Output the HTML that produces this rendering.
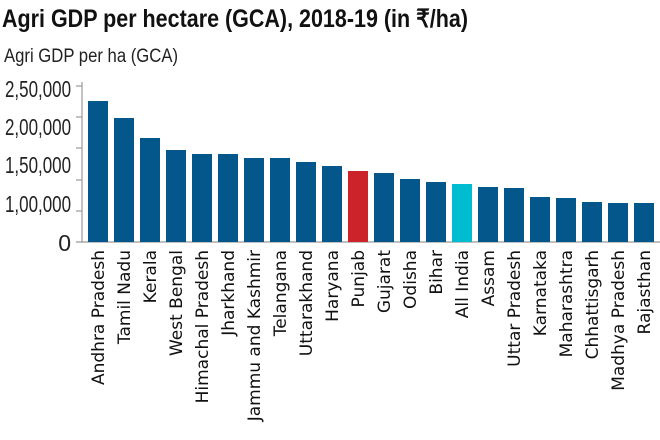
<!DOCTYPE html>
<html><head><meta charset="utf-8"><style>
html,body{margin:0;padding:0;background:#fff;}
svg{display:block;}
</style></head><body>
<svg width="660" height="440" viewBox="0 0 660 440" xmlns="http://www.w3.org/2000/svg">
<text x="2" y="27" font-family="Liberation Sans, sans-serif" font-weight="bold" font-size="25" fill="#111" textLength="466" lengthAdjust="spacingAndGlyphs">Agri GDP per hectare (GCA), 2018-19 (in ₹/ha)</text>
<text x="4" y="62" font-family="Liberation Sans, sans-serif" font-size="19" fill="#222" textLength="174" lengthAdjust="spacingAndGlyphs">Agri GDP per ha (GCA)</text>
<g font-family="Liberation Sans, sans-serif" font-size="23" fill="#222" text-anchor="end">
<text x="71" y="97" textLength="66" lengthAdjust="spacingAndGlyphs">2,50,000</text>
<text x="71" y="135" textLength="66" lengthAdjust="spacingAndGlyphs">2,00,000</text>
<text x="71" y="173" textLength="66" lengthAdjust="spacingAndGlyphs">1,50,000</text>
<text x="71" y="212" textLength="66" lengthAdjust="spacingAndGlyphs">1,00,000</text>
<text x="71" y="251">0</text>
</g>
<g stroke="#999" stroke-width="1.2">
<line x1="82" y1="82" x2="82" y2="242"/>
<line x1="76" y1="86" x2="82" y2="86"/>
<line x1="76" y1="117" x2="82" y2="117"/>
<line x1="76" y1="148" x2="82" y2="148"/>
<line x1="76" y1="180" x2="82" y2="180"/>
<line x1="76" y1="211" x2="82" y2="211"/>
<line x1="76" y1="242" x2="660" y2="242"/>
</g>
<g fill="#04578a">
<rect x="88" y="101" width="20" height="141"/>
<rect x="114" y="118" width="20" height="124"/>
<rect x="140" y="138" width="20" height="104"/>
<rect x="166" y="150" width="20" height="92"/>
<rect x="192" y="154" width="20" height="88"/>
<rect x="218" y="154" width="20" height="88"/>
<rect x="244" y="158" width="20" height="84"/>
<rect x="270" y="158" width="20" height="84"/>
<rect x="296" y="162" width="20" height="80"/>
<rect x="322" y="166" width="20" height="76"/>
<rect x="348" y="171" width="20" height="71" fill="#cc2229"/>
<rect x="374" y="173" width="20" height="69"/>
<rect x="400" y="179" width="20" height="63"/>
<rect x="426" y="182" width="20" height="60"/>
<rect x="452" y="184" width="20" height="58" fill="#00bcd0"/>
<rect x="478" y="187" width="20" height="55"/>
<rect x="504" y="188" width="20" height="54"/>
<rect x="530" y="197" width="20" height="45"/>
<rect x="556" y="198" width="20" height="44"/>
<rect x="582" y="202" width="20" height="40"/>
<rect x="608" y="203" width="20" height="39"/>
<rect x="634" y="203" width="20" height="39"/>
</g>
<g font-family="DejaVu Sans, sans-serif" font-size="17" fill="#111" text-anchor="end">
<text transform="translate(104,250) rotate(-90)">Andhra Pradesh</text>
<text transform="translate(130,250) rotate(-90)">Tamil Nadu</text>
<text transform="translate(156,250) rotate(-90)">Kerala</text>
<text transform="translate(182,250) rotate(-90)">West Bengal</text>
<text transform="translate(208,250) rotate(-90)">Himachal Pradesh</text>
<text transform="translate(234,250) rotate(-90)">Jharkhand</text>
<text transform="translate(260,250) rotate(-90)">Jammu and Kashmir</text>
<text transform="translate(286,250) rotate(-90)">Telangana</text>
<text transform="translate(312,250) rotate(-90)">Uttarakhand</text>
<text transform="translate(338,250) rotate(-90)">Haryana</text>
<text transform="translate(364,250) rotate(-90)">Punjab</text>
<text transform="translate(390,250) rotate(-90)">Gujarat</text>
<text transform="translate(416,250) rotate(-90)">Odisha</text>
<text transform="translate(442,250) rotate(-90)">Bihar</text>
<text transform="translate(468,250) rotate(-90)">All India</text>
<text transform="translate(494,250) rotate(-90)">Assam</text>
<text transform="translate(520,250) rotate(-90)">Uttar Pradesh</text>
<text transform="translate(546,250) rotate(-90)">Karnataka</text>
<text transform="translate(572,250) rotate(-90)">Maharashtra</text>
<text transform="translate(598,250) rotate(-90)">Chhattisgarh</text>
<text transform="translate(624,250) rotate(-90)">Madhya Pradesh</text>
<text transform="translate(650,250) rotate(-90)">Rajasthan</text>
</g>
</svg>
</body></html>
